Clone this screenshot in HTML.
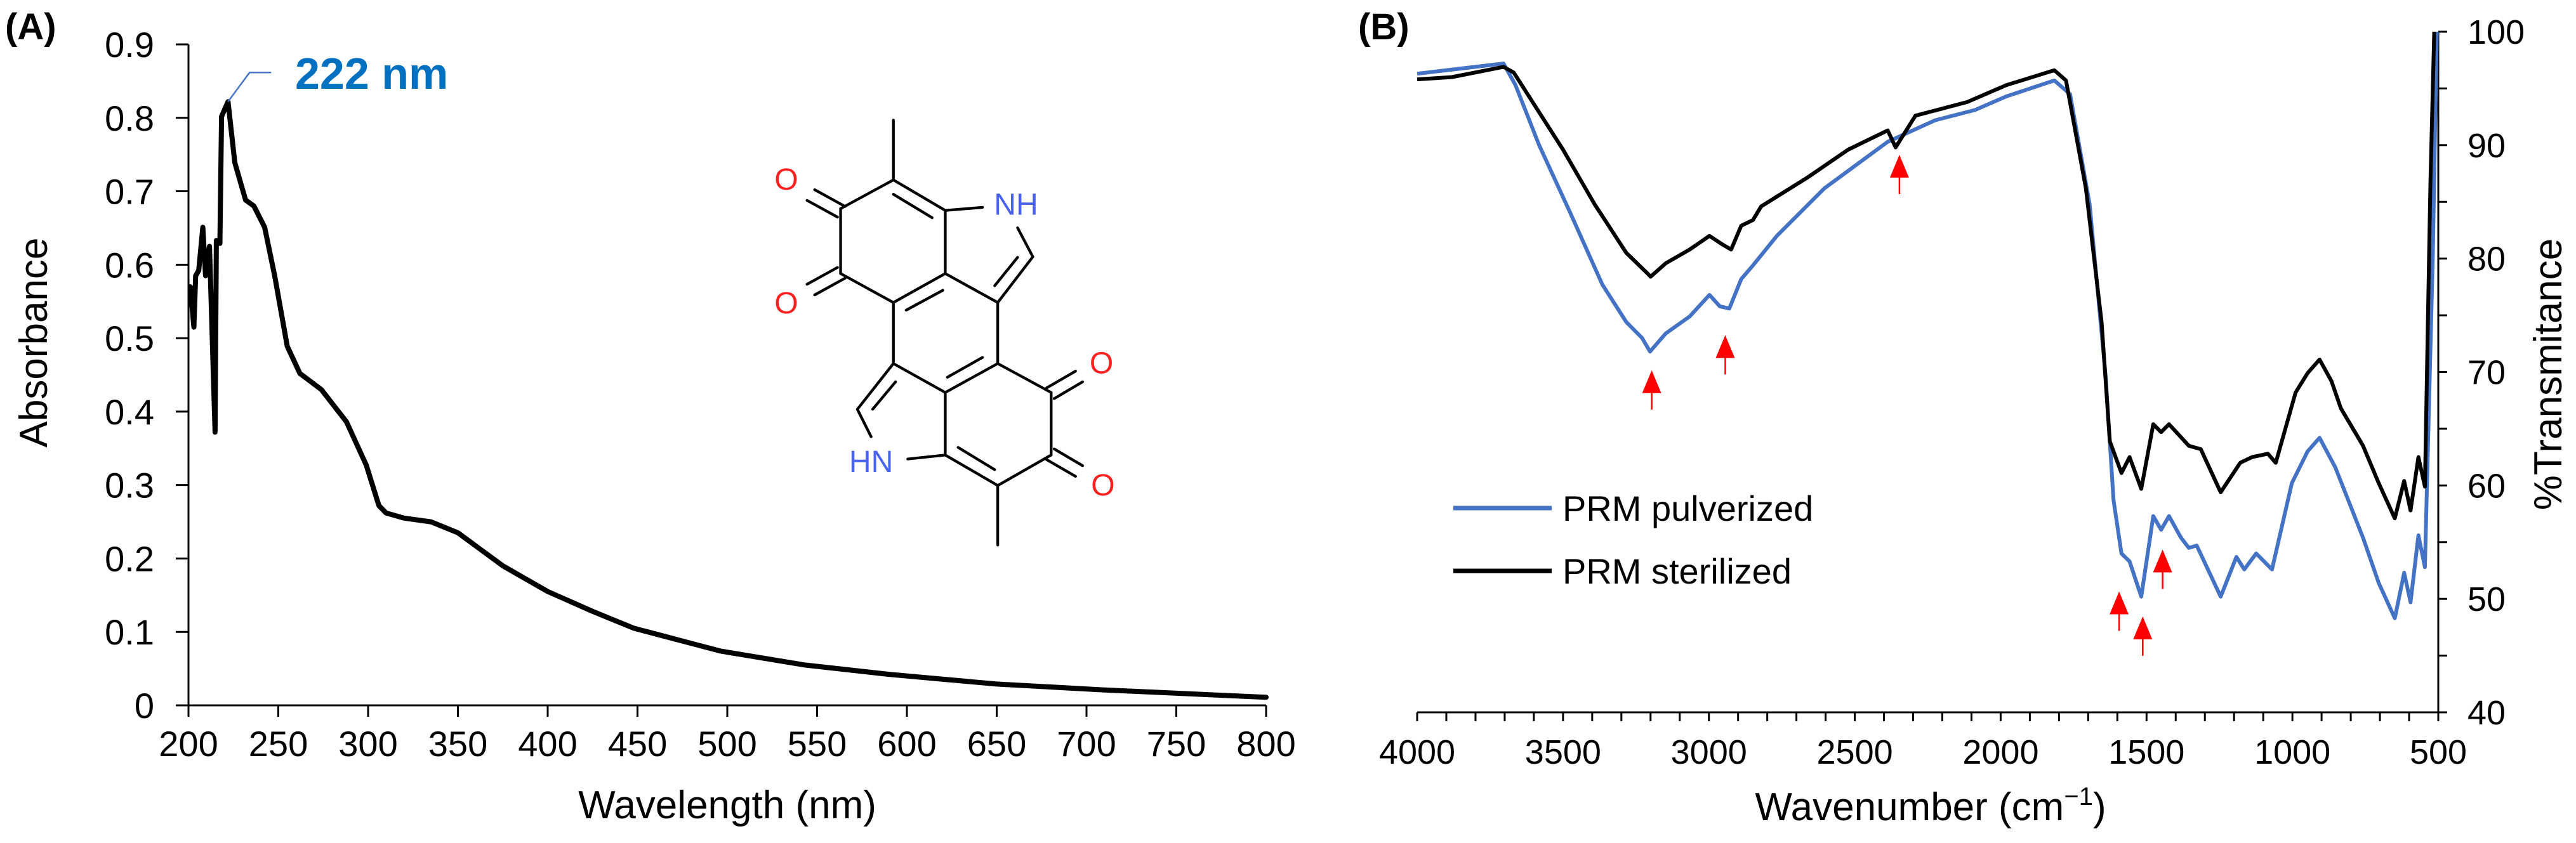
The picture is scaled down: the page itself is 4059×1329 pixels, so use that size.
<!DOCTYPE html>
<html><head><meta charset="utf-8"><style>
html,body{margin:0;padding:0;background:#fff;}
svg{display:block;font-family:"Liberation Sans",Arial,sans-serif;}
</style></head><body>
<svg id="fig" width="4059" height="1329" viewBox="0 0 4059 1329" xmlns="http://www.w3.org/2000/svg">
<g id="panelA"></g>
<g id="panelB"></g>
</svg>
<script>
// ---------- Panel A data ----------
const uvWavelength = [201,203,204,205.7,208,209.5,211.7,214.8,215.5,217.5,218.4,222,225.8,231.8,236.4,242.4,248,255,262,274,288,299,306,310,320,335,350,375,400,425,448,496,543,591,650,710,800];
const uvAbsorbance = [0.570,0.515,0.585,0.592,0.651,0.585,0.625,0.372,0.633,0.629,0.802,0.822,0.739,0.688,0.680,0.651,0.585,0.489,0.452,0.430,0.386,0.327,0.272,0.262,0.255,0.250,0.235,0.190,0.155,0.128,0.105,0.074,0.055,0.042,0.029,0.021,0.011];
const uvXTicks = [200,250,300,350,400,450,500,550,600,650,700,750,800];
const uvYTicks = ['0','0.1','0.2','0.3','0.4','0.5','0.6','0.7','0.8','0.9'];

// ---------- Panel B data ----------
const sterWn = [4000,3880,3704,3669,3582,3500,3392,3283,3207,3200,3147,3066,2998,2957,2924,2889,2849,2821,2659,2523,2387,2360,2292,2115,1980,1816,1776,1708,1654,1626,1586,1558,1518,1477,1450,1423,1355,1314,1246,1179,1138,1084,1057,989,948,907,866,834,758,704,649,617,595,568,546,527,514];
const sterT = [95.8,96,96.9,96.4,92.9,89.6,84.8,80.5,78.6,78.4,79.6,80.8,82,81.3,80.8,82.9,83.4,84.6,87.2,89.6,91.3,89.8,92.6,93.8,95.3,96.6,95.7,86.2,74.4,63.9,61.1,62.5,59.7,65.4,64.7,65.4,63.5,63.2,59.4,62,62.5,62.8,62,68.2,69.9,71.1,69.2,66.8,63.5,60.2,57.1,60.4,57.8,62.5,59.9,86.7,100];
const pulvWn = [4000,3704,3663,3582,3473,3365,3283,3229,3202,3148,3066,2998,2963,2930,2889,2849,2767,2604,2387,2224,2088,1980,1816,1762,1695,1640,1613,1586,1558,1518,1477,1450,1423,1382,1355,1328,1246,1192,1165,1124,1070,1002,948,907,853,758,704,649,617,595,568,546,519,505];
const pulvT = [96.3,97.2,95.3,90,83.9,77.7,74.4,73,71.8,73.4,74.9,76.8,75.8,75.6,78.2,79.4,82,86.2,90.3,92.2,93.1,94.3,95.7,94.5,84.8,69.6,58.7,54,53.3,50.2,57.3,56.1,57.3,55.4,54.5,54.7,50.2,53.7,52.6,54,52.6,60.2,63,64.2,61.6,55.4,51.4,48.3,52.3,49.7,55.6,52.8,80.1,100];
const arrowWn = [3196,2944,2347,1594,1513,1445];
const arrowT = [70.6,73.7,89.6,51.1,48.9,54.8];
const irXTicks = [4000,3500,3000,2500,2000,1500,1000,500];
const irYTicks = [40,50,60,70,80,90,100];

const NS='http://www.w3.org/2000/svg';
function mk(parent, tag, attrs, text){
  const e=document.createElementNS(NS,tag);
  for(const k in attrs) e.setAttribute(k,attrs[k]);
  if(text!==undefined) e.textContent=text;
  parent.appendChild(e); return e;
}
// axis functions
const xA = w => 297 + (w-200)*(1698/600);
const yA = a => 1112 - a*(1042/0.9);
const xB = k => 2233 + (4000-k)*(1609/3500);
const yB = t => 50 + (100-t)*(1073/60);

// ===== Panel A =====
const A=document.getElementById('panelA');
let t=mk(A,'text',{x:8,y:62,'font-size':58,'font-weight':'bold'},'(A)');


let ax=mk(A,'line',{x1:297,y1:yA(0.9),x2:297,y2:yA(0),stroke:'#000','stroke-width':3});


ax=mk(A,'line',{x1:297,y1:yA(0),x2:xA(800),y2:yA(0),stroke:'#000','stroke-width':3});


uvYTicks.forEach(v=>{
  const y=yA(parseFloat(v));
  const l=mk(A,'line',{x1:277,y1:y,x2:297,y2:y,stroke:'#000','stroke-width':3});
  
  
  const tx=mk(A,'text',{x:243,y:y+20,'font-size':56,'text-anchor':'end'},v);
  
  
});
uvXTicks.forEach(v=>{
  const x=xA(v);
  const l=mk(A,'line',{x1:x,y1:yA(0),x2:x,y2:yA(0)+18,stroke:'#000','stroke-width':3});
  
  
  const tx=mk(A,'text',{x:x,y:1192,'font-size':56,'text-anchor':'middle'},String(v));
  
  
});
t=mk(A,'text',{x:1146,y:1290,'font-size':62,'text-anchor':'middle'},'Wavelength (nm)');


t=mk(A,'text',{x:0,y:0,'font-size':62,'text-anchor':'middle',transform:'translate(74,540) rotate(-90)'},'Absorbance');


let d=uvWavelength.map((w,i)=>(i?'L':'M')+xA(w).toFixed(1)+','+yA(uvAbsorbance[i]).toFixed(1)).join(' ');
let p=mk(A,'path',{d:d,fill:'none',stroke:'#000','stroke-width':8,'stroke-linejoin':'round','stroke-linecap':'round'});


// peak annotation
const pkx=xA(222), pky=yA(0.822);
p=mk(A,'polyline',{points:`${pkx},${pky} ${pkx+34},${pky-46} ${pkx+68},${pky-46}`,fill:'none',stroke:'#4472C4','stroke-width':2.5});


t=mk(A,'text',{x:465,y:140,'font-size':70,'font-weight':'bold',fill:'#0070C0'},'222 nm');



// molecule
const M=mk(A,'g',{transform:'translate(1000,150) scale(0.4808)',stroke:'#000','stroke-width':9,'stroke-linecap':'round'});


const bonds=[
[848,82,848,278],[848,278,675,372],[675,372,675,585],[675,585,848,680],[848,680,1018,585],[1018,585,1018,378],[1018,378,848,278],
[1018,378,1140,368],[1255,435,1305,530],[1305,530,1190,680],[1190,680,1018,585],[1190,680,1190,880],[848,680,848,880],
[1190,880,1018,975],[1018,975,848,880],[848,880,730,1030],[730,1030,775,1120],[895,1193,1018,1180],[1018,1180,1018,975],
[1018,1180,1190,1280],[1190,1280,1365,1180],[1365,1180,1365,975],[1365,975,1190,880],[1190,1280,1190,1475],
[848,325,975,402],[890,705,1010,640],[1180,625,1255,532],[1025,925,1140,860],[780,1030,855,940],[1060,1155,1180,1228],
[590,310,690,365],[565,345,665,400],[565,620,665,565],[590,655,690,600],
[1350,960,1445,905],[1375,995,1468,940],[1350,1195,1445,1250],[1375,1160,1468,1215]];
bonds.forEach(b=>{
  const l=mk(M,'line',{x1:b[0],y1:b[1],x2:b[2],y2:b[3]});
  
  
});
const atoms=[['O',497,310,'#FF2020'],['O',497,715,'#FF2020'],['O',1530,912,'#FF2020'],['O',1535,1312,'#FF2020'],['NH',1250,392,'#4A62F0'],['HN',775,1235,'#4A62F0']];
atoms.forEach(a=>{
  const tx=mk(M,'text',{x:a[1],y:a[2],'font-size':100,'text-anchor':'middle',fill:a[3],stroke:'none'},a[0]);
  
  
});

// ===== Panel B =====
const B=document.getElementById('panelB');
t=mk(B,'text',{x:2140,y:62,'font-size':58,'font-weight':'bold'},'(B)');


ax=mk(B,'line',{x1:xB(500),y1:yB(100),x2:xB(500),y2:yB(40),stroke:'#000','stroke-width':3});


ax=mk(B,'line',{x1:xB(4000),y1:yB(40),x2:xB(500),y2:yB(40),stroke:'#000','stroke-width':3});


for(let v=40; v<=100; v+=5){
  const l=mk(B,'line',{x1:xB(500),y1:yB(v),x2:xB(500)+14,y2:yB(v),stroke:'#000','stroke-width':3});
  
  
}
irYTicks.forEach(v=>{
  const tx=mk(B,'text',{x:3888,y:yB(v)+19,'font-size':54},String(v));
  
  
});
for(let v=500; v<=4000; v+=100){
  const l=mk(B,'line',{x1:xB(v),y1:yB(40),x2:xB(v),y2:yB(40)+14,stroke:'#000','stroke-width':3});
  
  
}
irXTicks.forEach(v=>{
  const tx=mk(B,'text',{x:xB(v),y:1204,'font-size':54,'text-anchor':'middle'},String(v));
  
  
});
t=mk(B,'text',{x:3042,y:1293,'font-size':62,'text-anchor':'middle'});


t.appendChild(document.createTextNode('Wavenumber (cm'));
let ts=mk(t,'tspan',{dy:-24,'font-size':40},'−1');
ts=mk(t,'tspan',{dy:24},')');
t=mk(B,'text',{x:0,y:0,'font-size':62,'text-anchor':'middle',transform:'translate(4036,590) rotate(-90)'},'%Transmitance');



d=pulvWn.map((w,i)=>(i?'L':'M')+xB(w).toFixed(1)+','+yB(pulvT[i]).toFixed(1)).join(' ');
p=mk(B,'path',{d:d,fill:'none',stroke:'#4472C4','stroke-width':6,'stroke-linejoin':'round'});


d=sterWn.map((w,i)=>(i?'L':'M')+xB(w).toFixed(1)+','+yB(sterT[i]).toFixed(1)).join(' ');
p=mk(B,'path',{d:d,fill:'none',stroke:'#000','stroke-width':6,'stroke-linejoin':'round'});



arrowWn.forEach((w,i)=>{
  const x=xB(w), y=yB(arrowT[i])+8;
  const g=mk(B,'g',{});
  
  
  mk(g,'line',{x1:x,y1:y+30,x2:x,y2:y+62,stroke:'#FF0000','stroke-width':2.5});
  mk(g,'polygon',{points:`${x},${y} ${x-15},${y+36} ${x+15},${y+36}`,fill:'#FF0000'});
});

// legend
let lg=mk(B,'g',{});


let le=mk(lg,'line',{x1:2290,y1:801,x2:2445,y2:801,stroke:'#4472C4','stroke-width':7});


le=mk(lg,'text',{x:2462,y:821,'font-size':56},'PRM pulverized');


le=mk(lg,'line',{x1:2290,y1:900,x2:2445,y2:900,stroke:'#000','stroke-width':7});


le=mk(lg,'text',{x:2462,y:920,'font-size':56},'PRM sterilized');


</script>
</body></html>
